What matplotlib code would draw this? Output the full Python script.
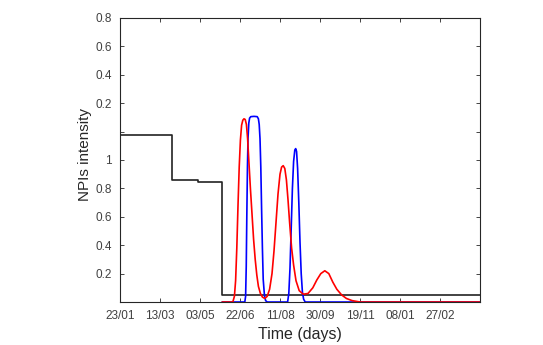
import matplotlib.pyplot as plt

plt.rcParams['font.family'] = ['Liberation Sans', 'DejaVu Sans']

# step function of observed NPIs (black)
black_days = [0, 65, 97.5, 127.9, 450]
black_vals = [1.175, 0.86, 0.843, 0.05, 0.05]

# blue scenario
blue_days = [128, 156, 157, 157.8, 158.5, 159.3, 160, 161, 162, 163.5,
             167.5, 171.5, 173, 174, 175, 176, 177, 178, 179, 180.5,
             182, 184, 209.5, 211, 212.5, 214, 215.5, 217, 218.5, 219.6,
             220.7, 222, 223.5, 225, 226.5, 228, 229.5, 231.5, 450]
blue_vals = [0, 0, 0.04, 0.25, 0.6, 0.95, 1.15, 1.26, 1.295, 1.305,
             1.307, 1.305, 1.29, 1.25, 1.15, 0.95, 0.65, 0.38, 0.16, 0.05,
             0.01, 0, 0, 0.06, 0.24, 0.52, 0.8, 0.99, 1.07, 1.08,
             1.06, 0.94, 0.7, 0.42, 0.2, 0.07, 0.02, 0, 0]

# red scenario
red_days = [128, 141, 143, 144.5, 146, 147.5, 149, 150.5, 152, 153.5,
            155, 156.5, 158, 159.5, 161, 163, 165, 167, 169, 171,
            173, 175.5, 178, 181, 184, 187, 190, 192.5, 195, 197.5,
            200, 202, 204, 206, 208, 210, 212, 214.5, 217, 220,
            224, 229, 235, 241, 246, 251, 256, 261, 266, 271,
            277, 283, 290, 300, 450]
red_vals = [0, 0, 0.04, 0.15, 0.38, 0.68, 0.95, 1.14, 1.245, 1.28,
            1.29, 1.285, 1.25, 1.15, 1.0, 0.8, 0.62, 0.44, 0.3, 0.19,
            0.11, 0.06, 0.035, 0.025, 0.04, 0.09, 0.2, 0.36, 0.56, 0.76,
            0.9, 0.95, 0.96, 0.94, 0.86, 0.72, 0.56, 0.38, 0.26, 0.15,
            0.08, 0.055, 0.06, 0.1, 0.155, 0.2, 0.22, 0.2, 0.14, 0.09,
            0.05, 0.025, 0.01, 0.0, 0]

xtick_pos = [0, 50, 100, 150, 200, 250, 300, 350, 400]
xtick_labels = ['23/01', '13/03', '03/05', '22/06', '11/08', '30/09', '19/11', '08/01', '27/02']
ytick_pos = [0.2, 0.4, 0.6, 0.8, 1.0, 1.2, 1.4, 1.6, 1.8, 2.0]
ytick_labels = ['0.2', '0.4', '0.6', '0.8', '1', '', '0.2', '0.4', '0.6', '0.8']

fig = plt.figure(figsize=(5.43, 3.45), dpi=100)
ax = fig.add_axes([0.221, 0.1246, 0.663, 0.8234])

ax.step(black_days, black_vals, where='post', color='#222222', lw=1.2)
ax.plot(blue_days, blue_vals, color='#0000ff', lw=1.2)
ax.plot(red_days, red_vals, color='#ff0000', lw=1.2)

ax.set_xlim(0, 450)
ax.set_ylim(0, 2.0)
ax.set_xticks(xtick_pos)
ax.set_xticklabels(xtick_labels)
ax.set_yticks(ytick_pos)
ax.set_yticklabels(ytick_labels)
ax.tick_params(direction='in', length=3, width=0.6, top=True, right=True,
               labelsize=8.5, colors='#262626', labelcolor='#404040', pad=6)
for s in ax.spines.values():
    s.set_linewidth(0.8)
    s.set_color('#262626')

ax.set_xlabel('Time (days)', fontsize=11.5, color='#262626', labelpad=3)
ax.set_ylabel('NPIs intensity', fontsize=11, color='#262626')
ax.yaxis.set_label_coords(-0.078, 0.52)

fig.savefig('out.png', dpi=100)
